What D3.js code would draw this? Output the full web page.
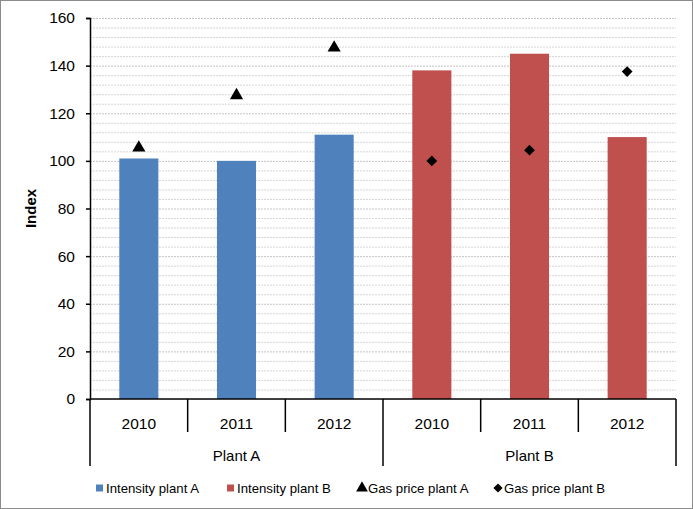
<!DOCTYPE html>
<html>
<head>
<meta charset="utf-8">
<script src="https://cdn.jsdelivr.net/npm/d3@7"></script>
<style>
  body { margin: 0; background: #fff; }
  text { font-family: "Liberation Sans", Arial, sans-serif; fill: #000; }
</style>
</head>
<body>
<script>
// data
let plants = ["Plant A", "Plant B"];
let years = ["2010", "2011", "2012"];
let intensityA = [101, 100, 111];
let intensityB = [138, 145, 110];
let gasPriceA = [105.5, 127.5, 147.5];
let gasPriceB = [100, 104.5, 137.5];
let yTicks = [0, 20, 40, 60, 80, 100, 120, 140, 160];

let W = 693, H = 509;
let plotLeft = 90, plotRight = 676, plotTop = 18, plotBottom = 399;

let svg = d3.select("body").append("svg")
  .attr("width", W)
  .attr("height", H);

svg.append("rect")
  .attr("x", 0.5).attr("y", 0.5)
  .attr("width", W - 1).attr("height", H - 1)
  .attr("fill", "#fff").attr("stroke", "#8c8c8c");

// six slots: plant x year
let slots = [];
plants.forEach(function (p) {
  years.forEach(function (yr) { slots.push(p + "|" + yr); });
});

let x = d3.scaleBand().domain(slots).range([plotLeft, plotRight]).paddingInner(0).paddingOuter(0);
let y = d3.scaleLinear().domain([0, 160]).range([plotBottom, plotTop]);

// grid lines every 4
let gridVals = d3.range(4, 161, 4);
svg.append("g").selectAll("line").data(gridVals).enter()
  .append("line")
    .attr("x1", plotLeft).attr("x2", plotRight)
    .attr("y1", function (d) { return y(d) + 0.5; })
    .attr("y2", function (d) { return y(d) + 0.5; })
    .attr("stroke", function (d) { return d % 20 == 0 ? "#c4c4c4" : "#d6d6d6"; })
    .attr("stroke-dasharray", "2,1");

// bars
let barData = [];
years.forEach(function (yr, i) {
  barData.push({ slot: "Plant A|" + yr, v: intensityA[i], c: "#4f81bd" });
});
years.forEach(function (yr, i) {
  barData.push({ slot: "Plant B|" + yr, v: intensityB[i], c: "#c0504d" });
});
let bw = x.bandwidth() * 0.4;
svg.append("g").selectAll("rect").data(barData).enter()
  .append("rect")
    .attr("x", function (d) { return x(d.slot) + x.bandwidth() / 2 - bw / 2; })
    .attr("y", function (d) { return y(d.v); })
    .attr("width", bw)
    .attr("height", function (d) { return y(0) - y(d.v); })
    .attr("fill", function (d) { return d.c; });

// markers
let tri = d3.symbol().type(d3.symbolTriangle).size(75);
let dia = d3.symbol().type(d3.symbolSquare).size(58);
svg.append("g").selectAll("path").data(gasPriceA).enter()
  .append("path")
    .attr("d", tri)
    .attr("transform", function (d, i) {
      return "translate(" + (x("Plant A|" + years[i]) + x.bandwidth() / 2) + "," + y(d) + ")";
    })
    .attr("fill", "#000");
svg.append("g").selectAll("path").data(gasPriceB).enter()
  .append("path")
    .attr("d", dia)
    .attr("transform", function (d, i) {
      return "translate(" + (x("Plant B|" + years[i]) + x.bandwidth() / 2) + "," + y(d) + ") rotate(45)";
    })
    .attr("fill", "#000");

// y axis
let yAxis = svg.append("g")
  .attr("transform", "translate(" + plotLeft + ",0)")
  .call(d3.axisLeft(y).tickValues(yTicks).tickSize(4).tickPadding(11));
yAxis.select(".domain").attr("stroke", "#000").attr("stroke-width", 1.5);
yAxis.selectAll(".tick line").attr("stroke", "#000").attr("stroke-width", 1.5);
yAxis.selectAll("text").attr("font-size", 15.5).attr("font-family", "Liberation Sans, Arial, sans-serif");

svg.append("text")
  .attr("transform", "translate(36," + ((plotTop + plotBottom) / 2) + ") rotate(-90)")
  .attr("text-anchor", "middle")
  .attr("font-size", 15)
  .attr("font-weight", "bold")
  .text("Index");

// x axis: baseline + separators
let axisG = svg.append("g").attr("stroke", "#000").attr("stroke-width", 1.5);
axisG.append("line")
  .attr("x1", plotLeft).attr("x2", plotRight)
  .attr("y1", plotBottom).attr("y2", plotBottom);
slots.forEach(function (s, i) {
  let xx = x(s);
  axisG.append("line")
    .attr("x1", xx).attr("x2", xx)
    .attr("y1", plotBottom).attr("y2", i % 3 == 0 ? 466 : 432);
});
axisG.append("line")
  .attr("x1", plotRight).attr("x2", plotRight)
  .attr("y1", plotBottom).attr("y2", 466);

svg.append("g").selectAll("text").data(slots).enter()
  .append("text")
    .attr("x", function (d) { return x(d) + x.bandwidth() / 2; })
    .attr("y", 429)
    .attr("text-anchor", "middle")
    .attr("font-size", 15.5)
    .text(function (d) { return d.split("|")[1]; });

svg.append("g").selectAll("text").data(plants).enter()
  .append("text")
    .attr("x", function (d) {
      return (x(d + "|2010") + x(d + "|2012") + x.bandwidth()) / 2;
    })
    .attr("y", 461)
    .attr("text-anchor", "middle")
    .attr("font-size", 15)
    .text(function (d) { return d; });

// legend
let legend = [
  { name: "Intensity plant A", kind: "rect", c: "#4f81bd", x: 96 },
  { name: "Intensity plant B", kind: "rect", c: "#c0504d", x: 227 },
  { name: "Gas price plant A", kind: "tri", c: "#000", x: 357 },
  { name: "Gas price plant B", kind: "dia", c: "#000", x: 493 }
];
let lg = svg.append("g").selectAll("g").data(legend).enter()
  .append("g")
    .attr("transform", function (d) { return "translate(" + d.x + ",488)"; });
lg.each(function (d) {
  let g = d3.select(this);
  if (d.kind == "rect") {
    g.append("rect").attr("x", 0).attr("y", -3.5).attr("width", 7).attr("height", 7).attr("fill", d.c);
  } else if (d.kind == "tri") {
    g.append("path").attr("d", d3.symbol().type(d3.symbolTriangle).size(60)).attr("transform", "translate(5,0)");
  } else {
    g.append("path").attr("d", d3.symbol().type(d3.symbolSquare).size(42)).attr("transform", "translate(5,0) rotate(45)");
  }
  g.append("text")
    .attr("x", d.kind == "rect" ? 10 : 11)
    .attr("y", 4.5)
    .attr("font-size", 13.2)
    .text(d.name);
});
</script>
</body>
</html>
